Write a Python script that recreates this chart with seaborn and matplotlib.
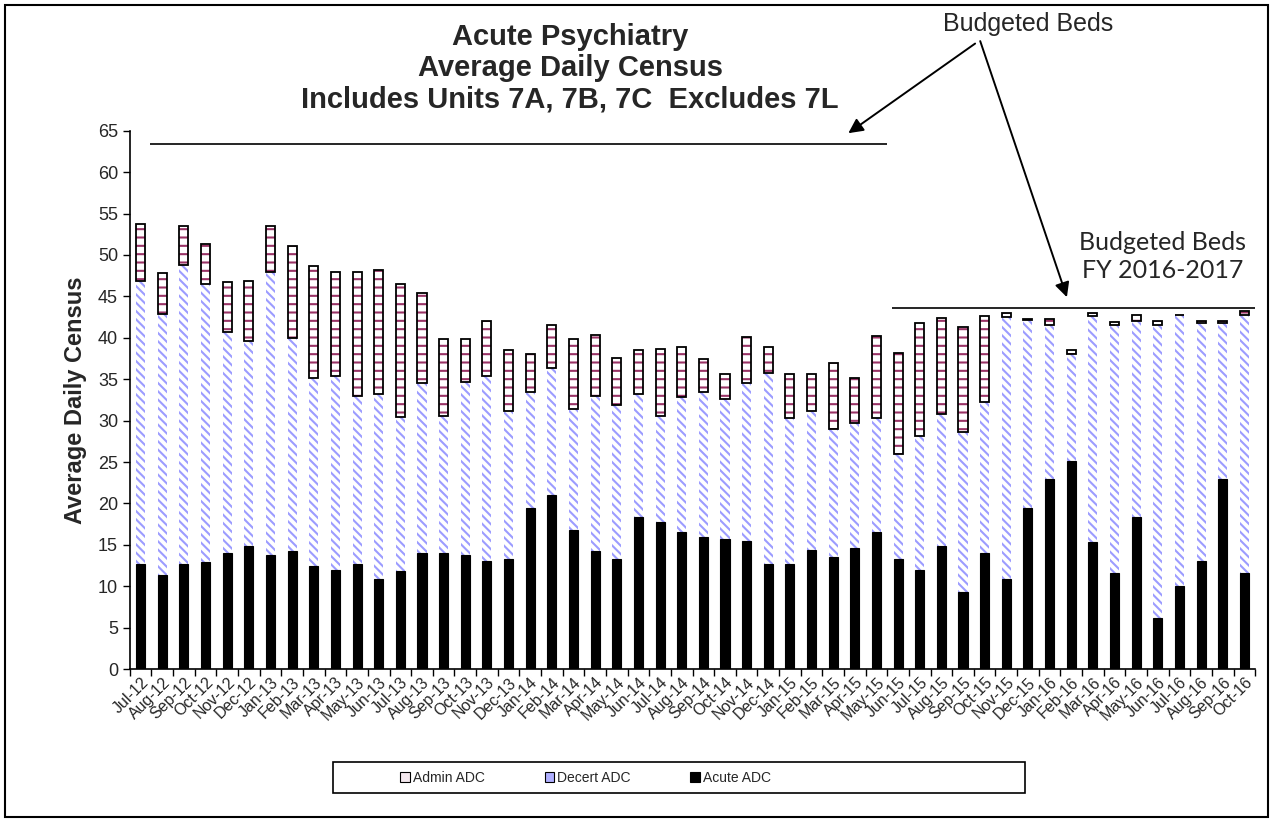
import numpy as np
import pandas as pd
import matplotlib
matplotlib.use("Agg")
import matplotlib.pyplot as plt
import seaborn as sns
from matplotlib.patches import Patch, Rectangle
from matplotlib.ticker import FixedLocator

months = [
    "Jul-12", "Aug-12", "Sep-12", "Oct-12", "Nov-12", "Dec-12", "Jan-13", "Feb-13",
    "Mar-13", "Apr-13", "May-13", "Jun-13", "Jul-13", "Aug-13", "Sep-13", "Oct-13",
    "Nov-13", "Dec-13", "Jan-14", "Feb-14", "Mar-14", "Apr-14", "May-14", "Jun-14",
    "Jul-14", "Aug-14", "Sep-14", "Oct-14", "Nov-14", "Dec-14", "Jan-15", "Feb-15",
    "Mar-15", "Apr-15", "May-15", "Jun-15", "Jul-15", "Aug-15", "Sep-15", "Oct-15",
    "Nov-15", "Dec-15", "Jan-16", "Feb-16", "Mar-16", "Apr-16", "May-16", "Jun-16",
    "Jul-16", "Aug-16", "Sep-16", "Oct-16",
]
acute = [
    12.7, 11.4, 12.7, 12.9, 14.0, 14.9, 13.8, 14.2, 12.4, 12.0, 12.7, 10.9, 11.8,
    14.0, 14.0, 13.8, 13.1, 13.3, 19.5, 21.0, 16.8, 14.2, 13.3, 18.4, 17.7, 16.6,
    16.0, 15.7, 15.5, 12.7, 12.7, 14.4, 13.5, 14.6, 16.6, 13.3, 12.0, 14.9, 9.3,
    14.0, 10.9, 19.5, 22.9, 25.1, 15.3, 11.6, 18.4, 6.2, 10.0, 13.1, 23.0, 11.6,
]
decert = [
    34.2, 31.5, 36.1, 33.6, 26.7, 24.7, 34.1, 25.8, 22.8, 23.4, 20.3, 22.3, 18.6,
    20.5, 16.6, 20.9, 22.3, 17.9, 13.9, 15.4, 14.6, 18.8, 18.6, 14.8, 12.9, 16.2,
    17.4, 16.9, 19.0, 23.1, 17.6, 16.8, 15.5, 15.1, 13.7, 12.7, 16.1, 15.9, 19.3,
    18.3, 31.6, 22.6, 18.6, 12.9, 27.3, 29.9, 23.6, 35.3, 32.7, 28.7, 18.8, 31.2,
]
admin = [
    6.8, 4.9, 4.7, 4.8, 6.0, 7.3, 5.6, 11.1, 13.5, 12.5, 14.9, 15.0, 16.1,
    10.9, 9.3, 5.2, 6.6, 7.3, 4.6, 5.2, 8.5, 7.3, 5.7, 5.3, 8.1, 6.1,
    4.0, 3.0, 5.6, 3.1, 5.3, 4.4, 7.9, 5.5, 9.9, 12.2, 13.7, 11.6, 12.7,
    10.3, 0.5, 0.2, 0.8, 0.5, 0.4, 0.4, 0.8, 0.5, 0.1, 0.2, 0.2, 0.4,
]
budget_old = 63.4   # budgeted beds Jul-12 .. May-15
budget_new = 43.6   # budgeted beds FY 2016-2017

df = pd.DataFrame({"Month": months, "Acute": acute, "Decert": decert, "Admin": admin})
df["AcuteDecert"] = df["Acute"] + df["Decert"]
df["Total"] = df["AcuteDecert"] + df["Admin"]

sns.set_style("ticks")
plt.rcParams["font.family"] = ["Liberation Sans", "DejaVu Sans"]
plt.rcParams["hatch.linewidth"] = 1.5

fig = plt.figure(figsize=(12.73, 8.22), dpi=100)
ax = fig.add_axes([0.102, 0.186, 0.884, 0.655])

bw = 0.42
# stacked by overdrawing the cumulative heights
sns.barplot(data=df, x="Month", y="Total", color="white", edgecolor="#993366",
            hatch="--", linewidth=0, width=bw, errorbar=None, ax=ax)
sns.barplot(data=df, x="Month", y="AcuteDecert", color="white", edgecolor="#9C9CFF",
            hatch="\\\\\\\\", linewidth=0, width=bw, errorbar=None, ax=ax)
sns.barplot(data=df, x="Month", y="Acute", color="black", edgecolor="black",
            linewidth=0.8, width=bw, errorbar=None, ax=ax)
xpos = np.arange(len(df))
ax.bar(xpos, df["Admin"], bottom=df["AcuteDecert"], width=bw, fill=False,
       edgecolor="black", linewidth=1.3)

ax.hlines(budget_old, 0.42, 34.5, color="black", lw=1.2)
ax.hlines(budget_new, 34.7, 51.5, color="black", lw=1.2)

ax.set_xlim(-0.5, 51.5)
ax.set_ylim(0, 65)
ax.set_yticks(np.arange(0, 66, 5))
ax.tick_params(axis="y", labelsize=13, length=5, width=1, color="black")
ax.xaxis.set_minor_locator(FixedLocator(np.arange(-0.5, 52, 1)))
ax.tick_params(axis="x", which="major", length=0, labelsize=11.5, pad=4)
ax.tick_params(axis="x", which="minor", length=5, width=1, color="black")
plt.setp(ax.get_xticklabels(), rotation=45, ha="right", rotation_mode="anchor")
ax.set_xlabel("")
ax.set_ylabel("Average Daily Census", fontsize=17, fontweight="bold", labelpad=8)
for s in ["top", "right"]:
    ax.spines[s].set_visible(False)
for s in ["left", "bottom"]:
    ax.spines[s].set_color("black")
    ax.spines[s].set_linewidth(1.2)

fig.text(0.448, 0.917,
         "Acute Psychiatry\nAverage Daily Census\nIncludes Units 7A, 7B, 7C  Excludes 7L",
         ha="center", va="center", fontsize=21, fontweight="bold", linespacing=1.13)

fig.text(0.8075, 0.971, "Budgeted Beds", ha="center", va="center", fontsize=18)
arrow = dict(arrowstyle="-|>", color="black", lw=1.4, mutation_scale=22,
             shrinkA=0, shrinkB=0)
ax.annotate("", xy=(32.7, 64.7), xytext=(0.766, 0.947), textcoords="figure fraction",
            arrowprops=arrow, annotation_clip=False)
ax.annotate("", xy=(42.8, 44.9), xytext=(0.770, 0.950), textcoords="figure fraction",
            arrowprops=arrow, annotation_clip=False)
fig.text(0.913, 0.688, "Budgeted Beds\nFY 2016-2017", ha="center", va="center",
         fontsize=18, family=["Lato", "DejaVu Sans"], linespacing=1.25)

handles = [
    Patch(facecolor="#F4E8EE", edgecolor="black", linewidth=0.8, label="Admin ADC"),
    Patch(facecolor="#AFAFFF", edgecolor="black", linewidth=0.8, label="Decert ADC"),
    Patch(facecolor="black", edgecolor="black", linewidth=0.8, label="Acute ADC"),
]
fig.legend(handles=handles, loc="center", bbox_to_anchor=(0.46, 0.054), ncol=3,
           frameon=False, fontsize=10, handlelength=0.7, handleheight=0.7,
           handletextpad=0.2, columnspacing=4.3)
fig.patches.append(Rectangle((0.2616, 0.0353), 0.5436, 0.0377, transform=fig.transFigure,
                             fill=False, edgecolor="black", lw=1.2))
fig.patches.append(Rectangle((0.004, 0.006), 0.992, 0.988, transform=fig.transFigure,
                             fill=False, edgecolor="black", lw=1.5))

fig.savefig("out.png", dpi=100)
